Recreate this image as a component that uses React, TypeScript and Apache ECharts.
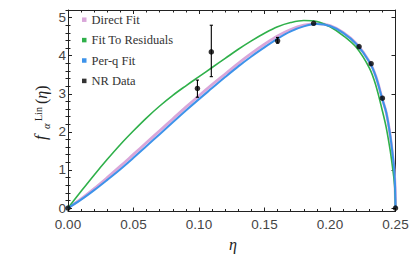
import React, { useEffect, useRef } from "react";
import * as echarts from "echarts";

const etaGrid = [
  0, 0.01, 0.02, 0.03, 0.04, 0.05, 0.06, 0.07, 0.08, 0.09, 0.1, 0.11, 0.12,
  0.13, 0.14, 0.15, 0.16, 0.17, 0.18, 0.19, 0.2, 0.21, 0.22, 0.23, 0.235,
  0.24, 0.243, 0.246, 0.248, 0.249, 0.2497, 0.25,
];
const directFit = [
  0, 0.24, 0.51, 0.8, 1.1, 1.41, 1.72, 2.03, 2.34, 2.65, 2.95, 3.24, 3.52,
  3.8, 4.06, 4.3, 4.52, 4.69, 4.8, 4.84, 4.79, 4.61, 4.32, 3.85, 3.46, 2.86,
  2.5, 1.9, 1.35, 1.0, 0.55, 0,
];
const fitToResiduals = [
  0, 0.44, 0.87, 1.28, 1.67, 2.03, 2.37, 2.68, 2.96, 3.21, 3.45, 3.69, 3.93,
  4.17, 4.39, 4.59, 4.76, 4.87, 4.925, 4.9, 4.76, 4.53, 4.22, 3.68, 3.22,
  2.55, 2.1, 1.5, 1.0, 0.72, 0.38, 0,
];
const perQFit = [
  0, 0.22, 0.47, 0.74, 1.02, 1.32, 1.63, 1.94, 2.25, 2.56, 2.86, 3.15, 3.44,
  3.72, 3.98, 4.22, 4.45, 4.64, 4.77, 4.83, 4.78, 4.6, 4.31, 3.84, 3.45, 2.85,
  2.5, 1.9, 1.35, 1.0, 0.55, 0,
];

// NR data points with error bars
const nrEta = [0, 0.0988, 0.1094, 0.16, 0.1875, 0.2222, 0.2314, 0.24, 0.25];
const nrValue = [0, 3.14, 4.1, 4.39, 4.85, 4.24, 3.79, 2.885, 0];
const nrErrLow = [0, 2.91, 3.45, 4.33, 4.85, 4.24, 3.79, 2.885, 0];
const nrErrHigh = [0, 3.36, 4.8, 4.48, 4.85, 4.24, 3.79, 2.885, 0];

// Axis ticks
const xTickLabels = [0, 0.05, 0.1, 0.15, 0.2, 0.25];
const yTickLabels = [0, 1, 2, 3, 4, 5];
const yMinorTicks = [
  0.2, 0.4, 0.6, 0.8, 1.2, 1.4, 1.6, 1.8, 2.2, 2.4, 2.6, 2.8, 3.2, 3.4, 3.6,
  3.8, 4.2, 4.4, 4.6, 4.8, 5.2,
];

const seriesNames = ["Direct Fit", "Fit To Residuals", "Per-q Fit", "NR Data"];
const colors = ["#d9a6d9", "#2fb04a", "#3d93ea", "#000000"];

const FRAME = "#222";
const SERIF = "'Liberation Serif', 'Times New Roman', serif";
const SANS = "'Liberation Sans', Arial, sans-serif";

export default function App() {
  const ref = useRef<HTMLDivElement>(null);

  useEffect(() => {
    if (!ref.current) return;
    const chart = echarts.init(ref.current, undefined, { renderer: "svg" });

    const pair = (ys: number[]) => etaGrid.map((x, i) => [x, ys[i]]);
    const errData = nrEta
      .map((x, i) => [x, nrErrLow[i], nrErrHigh[i]])
      .filter((d) => d[2] - d[1] > 0);

    const yMin = -0.09;
    const yMax = 5.2;

    const majorTick = { show: true, inside: true, length: 4, lineStyle: { color: FRAME, width: 1 } };
    const minorTickY = { show: true, inside: true, length: 2.5, lineStyle: { color: FRAME, width: 1 } };

    const xCommon = {
      type: "value",
      min: 0,
      max: 0.25,
      interval: 0.05,
      axisLine: { show: true, onZero: false, lineStyle: { color: FRAME, width: 1 } },
      axisTick: majorTick,
      minorTick: { show: true, splitNumber: 5, length: 2.5, lineStyle: { color: FRAME, width: 1 } },
      splitLine: { show: false },
      minorSplitLine: { show: false },
    };

    const yHidden = {
      type: "value",
      min: yMin,
      max: yMax,
      axisLine: { show: false },
      axisLabel: { show: false },
      splitLine: { show: false },
    };

    const lineCommon = {
      type: "line",
      showSymbol: false,
      smooth: 0.35,
    };

    chart.setOption({
      animation: false,
      backgroundColor: "#ffffff",
      grid: {
        left: 68,
        right: 19.5,
        top: 10,
        bottom: 49.5,
        containLabel: false,
        outerBoundsMode: "none",
      },
      legend: {
        data: seriesNames,
        selectedMode: false,
        orient: "vertical",
        left: 82,
        top: 12.7,
        padding: 0,
        icon: "rect",
        itemWidth: 4.5,
        itemHeight: 4.5,
        itemGap: 6.4,
        textStyle: {
          fontFamily: SERIF,
          fontSize: 12.5,
          lineHeight: 14,
          color: "#333",
        },
      },
      xAxis: [
        {
          ...xCommon,
          position: "bottom",
          axisLabel: {
            show: true,
            margin: 6,
            fontFamily: SANS,
            fontSize: 13.5,
            color: "#444",
            showMinLabel: true,
            showMaxLabel: true,
            formatter: (v: number) =>
              xTickLabels.some((t) => Math.abs(t - v) < 1e-9) ? v.toFixed(2) : "",
          },
        },
        {
          ...xCommon,
          position: "top",
          axisLabel: { show: false },
        },
      ],
      yAxis: [
        {
          type: "value",
          position: "left",
          min: yMin,
          max: yMax,
          axisLine: { show: true, onZero: false, lineStyle: { color: FRAME, width: 1 } },
          axisTick: { ...majorTick, customValues: yTickLabels },
          axisLabel: {
            show: true,
            customValues: yTickLabels,
            margin: 2,
            fontFamily: SANS,
            fontSize: 13.5,
            color: "#444",
          },
          splitLine: { show: false },
        },
        {
          ...yHidden,
          position: "left",
          axisTick: { ...minorTickY, customValues: yMinorTicks },
        },
        {
          type: "value",
          position: "right",
          min: yMin,
          max: yMax,
          axisLine: { show: true, onZero: false, lineStyle: { color: FRAME, width: 1 } },
          axisTick: { ...majorTick, customValues: yTickLabels },
          axisLabel: { show: false },
          splitLine: { show: false },
        },
        {
          ...yHidden,
          position: "right",
          axisTick: { ...minorTickY, customValues: yMinorTicks },
        },
      ],
      series: [
        {
          ...lineCommon,
          name: seriesNames[0],
          data: pair(directFit),
          color: colors[0],
          lineStyle: { color: colors[0], width: 2.8 },
          z: 2,
        },
        {
          ...lineCommon,
          name: seriesNames[1],
          data: pair(fitToResiduals),
          color: colors[1],
          lineStyle: { color: colors[1], width: 1.6 },
          z: 3,
        },
        {
          ...lineCommon,
          name: seriesNames[2],
          data: pair(perQFit),
          color: colors[2],
          lineStyle: { color: colors[2], width: 2 },
          z: 4,
        },
        {
          name: "errors",
          type: "custom",
          data: errData,
          encode: { x: 0, y: [1, 2] },
          z: 5,
          renderItem: (params: any, api: any) => {
            const x = api.value(0);
            const lo = api.coord([x, api.value(1)]);
            const hi = api.coord([x, api.value(2)]);
            const w = 1.6;
            const st = { stroke: "#000", lineWidth: 1.1 };
            return {
              type: "group",
              children: [
                { type: "line", shape: { x1: lo[0], y1: lo[1], x2: hi[0], y2: hi[1] }, style: st },
                { type: "line", shape: { x1: lo[0] - w, y1: lo[1], x2: lo[0] + w, y2: lo[1] }, style: st },
                { type: "line", shape: { x1: hi[0] - w, y1: hi[1], x2: hi[0] + w, y2: hi[1] }, style: st },
              ],
            };
          },
        },
        {
          name: seriesNames[3],
          type: "scatter",
          data: nrEta.map((x, i) => [x, nrValue[i]]),
          symbol: "circle",
          symbolSize: 5.5,
          color: colors[3],
          itemStyle: { color: colors[3] },
          z: 6,
        },
      ],
      graphic: [
        {
          type: "text",
          x: 233,
          y: 244,
          style: {
            text: "η",
            fontFamily: SERIF,
            fontStyle: "italic",
            fontSize: 16,
            fill: "#222",
            textAlign: "center",
            textVerticalAlign: "middle",
            align: "center",
            verticalAlign: "middle",
          },
        },
        {
          type: "text",
          x: 40.8,
          y: 140,
          rotation: Math.PI / 2,
          style: {
            text: "f",
            fontFamily: SERIF,
            fontStyle: "italic",
            fontSize: 17,
            fill: "#222",
            textAlign: "left",
            textVerticalAlign: "middle",
            align: "left",
            verticalAlign: "middle",
          },
        },
        {
          type: "text",
          x: 46.6,
          y: 129,
          rotation: Math.PI / 2,
          style: {
            text: "α",
            fontFamily: SERIF,
            fontStyle: "italic",
            fontSize: 10.5,
            fill: "#222",
            textAlign: "left",
            textVerticalAlign: "middle",
            align: "left",
            verticalAlign: "middle",
          },
        },
        {
          type: "text",
          x: 38.1,
          y: 121,
          rotation: Math.PI / 2,
          style: {
            text: "Lin",
            fontFamily: SERIF,
            fontSize: 10,
            fill: "#222",
            textAlign: "left",
            textVerticalAlign: "middle",
            align: "left",
            verticalAlign: "middle",
          },
        },
        {
          type: "text",
          x: 41.1,
          y: 104,
          rotation: Math.PI / 2,
          style: {
            text: "{u|(}{i|η}{u|)}",
            fontFamily: SERIF,
            fontSize: 16,
            fill: "#222",
            textAlign: "left",
            textVerticalAlign: "middle",
            align: "left",
            verticalAlign: "middle",
            rich: {
              u: { fontFamily: SERIF, fontSize: 16, fill: "#222", color: "#222" },
              i: { fontFamily: SERIF, fontSize: 16, fontStyle: "italic", fill: "#222", color: "#222" },
            },
          },
        },
      ],
    });

    return () => chart.dispose();
  }, []);

  return (
    <div
      ref={ref}
      style={{ position: "fixed", left: 0, top: 0, width: 415, height: 261, background: "#fff" }}
    />
  );
}
